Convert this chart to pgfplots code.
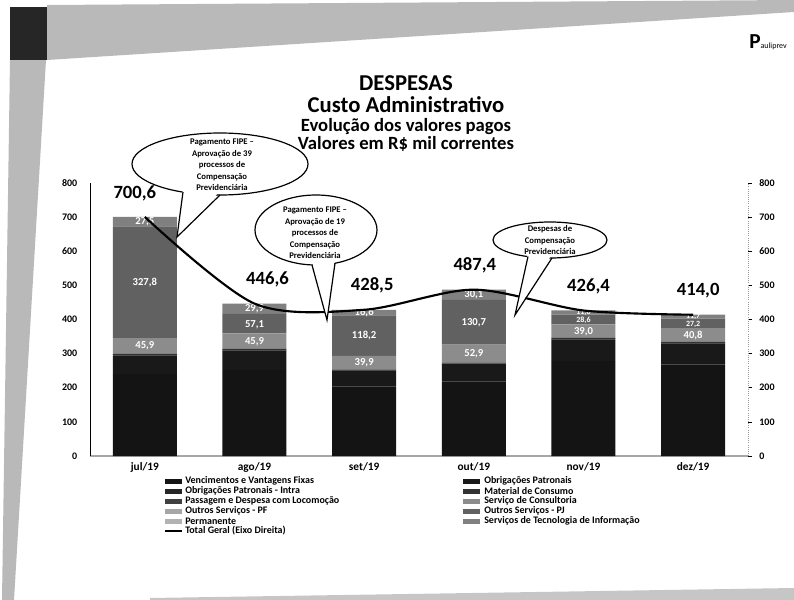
\documentclass[border=0pt]{standalone}
\usepackage{fontspec}
\setmainfont{Carlito}
\usepackage{pgfplots}
\pgfplotsset{compat=1.18}
\usepackage{pgfplotstable}

\pgfplotstableread{
x venc obrig intra mat pass cons opf opj perm ti
0 240.0 55.0 1.5 2.0 0.9 45.9 0 327.8 0 27.5
1 251.5 57.8 1.5 2.2 0.7 45.9 0 57.1 0 29.9
2 203.5 46.5 1.5 1.8 0.5 39.9 0 118.2 0 16.6
3 219.0 50.2 1.5 2.5 0.5 52.9 0 130.7 0 30.1
4 278.0 64.0 1.5 3.0 0.5 39.0 0 28.6 0 11.8
5 268.0 61.5 1.5 2.8 0.5 40.8 0 27.2 0 11.7
}\costs

\pgfplotstableread{
x total
0 700.6
1 446.6
2 428.5
3 487.4
4 426.4
5 414.0
}\totals

\tikzset{
  seglab/.style={font=\bfseries\fontsize{8}{8}\selectfont, text=white, inner sep=0.5pt},
  seglabs/.style={font=\bfseries\fontsize{6}{6}\selectfont, text=white, inner sep=0pt},
  totlab/.style={font=\bfseries\fontsize{14}{14}\selectfont, anchor=center},
  bubtxt/.style={font=\bfseries\fontsize{6.5}{8.6}\selectfont, align=center},
  legtxt/.style={font=\bfseries\fontsize{7.5}{8}\selectfont, anchor=west, inner sep=0pt},
}

\begin{document}
\begin{tikzpicture}[x=0.75pt,y=-0.75pt]
\path[use as bounding box] (0,0) rectangle (794,600);
% scan background
\fill[gray!55] (47,5) -- (794,0) -- (794,12) -- (47,60) -- cycle;
\fill[black!85] (10,7) rectangle (47,60);
\fill[gray!55] (10,60) -- (46,60) -- (14,600) -- (2,600) -- cycle;
\fill[gray!45] (150,598) -- (794,588) -- (794,600) -- (150,600) -- cycle;

% titles
\node[anchor=base, font=\bfseries\fontsize{17}{17}\selectfont] at (406,90) {DESPESAS};
\node[anchor=base, font=\bfseries\fontsize{17}{17}\selectfont] at (406,112) {Custo Administrativo};
\node[anchor=base, font=\bfseries\fontsize{14}{14}\selectfont] at (406,131) {Evolução dos valores pagos};
\node[anchor=base, font=\bfseries\fontsize{14}{14}\selectfont] at (406,149) {Valores em R\$ mil correntes};
% logo
\node[anchor=base, inner sep=0pt] at (768,48) {{\fontsize{16}{16}\selectfont\bfseries P}{\fontsize{6}{6}\selectfont auliprev}};

\begin{axis}[
  at={(67.5pt,-342pt)}, anchor=south west,
  width=493.5pt, height=204.75pt, scale only axis,
  ybar stacked, bar width=48pt,
  xmin=-0.5, xmax=5.5, ymin=0, ymax=800,
  xtick={0,...,5}, xticklabels={jul/19,ago/19,set/19,out/19,nov/19,dez/19},
  ytick={0,100,...,800},
  axis x line*=bottom, axis y line*=left,
  x axis line style={gray!70, line width=0.8pt, -},
  y axis line style={black, line width=0.6pt, -},
  major tick length=0pt,
  tick label style={font=\bfseries\fontsize{7.5}{8}\selectfont},
  xticklabel style={font=\bfseries\fontsize{8.5}{9}\selectfont, yshift=-1pt},
  yticklabel style={xshift=-6pt},
  /pgf/number format/assume math mode=true,
  clip=false,
]
\addplot[fill=black!92, draw=none] table[x=x,y=venc]{\costs};
\addplot[fill=black!90, draw=none] table[x=x,y=obrig]{\costs};
\addplot[fill=black!85, draw=none] table[x=x,y=intra]{\costs};
\addplot[fill=black!80, draw=none] table[x=x,y=mat]{\costs};
\addplot[fill=black!75, draw=none] table[x=x,y=pass]{\costs};
\addplot[fill=black!45, draw=none] table[x=x,y=cons]{\costs};
\addplot[fill=black!35, draw=none] table[x=x,y=opf]{\costs};
\addplot[fill=black!62, draw=none] table[x=x,y=opj]{\costs};
\addplot[fill=black!30, draw=none] table[x=x,y=perm]{\costs};
\addplot[fill=black!50, draw=none] table[x=x,y=ti]{\costs};
\end{axis}

\begin{axis}[
  at={(67.5pt,-342pt)}, anchor=south west,
  width=493.5pt, height=204.75pt, scale only axis,
  xmin=-0.5, xmax=5.5, ymin=0, ymax=800,
  axis y line*=right, axis x line=none,
  ytick={0,100,...,800},
  y axis line style={gray!80, densely dotted, line width=0.6pt, -},
  tick align=outside, major tick length=3pt,
  ytick style={black, line width=0.5pt},
  yticklabel style={font=\bfseries\fontsize{7.5}{8}\selectfont, xshift=2pt},
  /pgf/number format/assume math mode=true,
  clip=false,
]
% segment labels
\node[seglab] at (axis cs:0,322.35) {45,9};
\node[seglab] at (axis cs:0,509.2) {327,8};
\node[seglab] at (axis cs:0,688) {27,5};
\node[seglab] at (axis cs:1,334) {45,9};
\node[seglab] at (axis cs:1,386) {57,1};
\node[seglab] at (axis cs:1,433) {29,9};
\node[seglab] at (axis cs:2,273.75) {39,9};
\node[seglab] at (axis cs:2,352.8) {118,2};
\node[seglab] at (axis cs:2,420.2) {16,6};
\node[seglab] at (axis cs:3,300.15) {52,9};
\node[seglab] at (axis cs:3,391.95) {130,7};
\node[seglab] at (axis cs:3,474) {30,1};
\node[seglab] at (axis cs:4,364) {39,0};
\node[seglabs] at (axis cs:4,398) {28,6};
\node[seglabs] at (axis cs:4,420) {11,8};
\node[seglab] at (axis cs:5,352) {40,8};
\node[seglabs] at (axis cs:5,386) {27,2};
\node[seglabs] at (axis cs:5,408) {11,7};
\addplot[black, line width=1.6pt, smooth, tension=0.5, no marks] table[x=x,y=total]{\totals};
\node[totlab, xshift=-7.5pt, yshift=18pt] at (axis cs:0,700.6) {700,6};
\node[totlab, xshift=9.75pt, yshift=18pt] at (axis cs:1,446.6) {446,6};
\node[totlab, xshift=6pt, yshift=18pt] at (axis cs:2,428.5) {428,5};
\node[totlab, xshift=0.75pt, yshift=18pt] at (axis cs:3,487.4) {487,4};
\node[totlab, xshift=3.75pt, yshift=18pt] at (axis cs:4,426.4) {426,4};
\node[totlab, xshift=3.75pt, yshift=18pt] at (axis cs:5,414.0) {414,0};
\end{axis}

% callout 1
\draw[fill=white, line width=0.9pt] (220,164) ellipse [x radius=66pt, y radius=23.25pt];
\fill[white] (183,188) -- (177,237) -- (220,191) -- cycle;
\draw[line width=0.9pt] (183,192) -- (177,237) -- (220,195);
\node[bubtxt] at (222,165) {Pagamento FIPE –\\Aprovação de 39\\processos de\\Compensação\\Previdenciária};
% callout 2
\draw[fill=white, line width=0.9pt] (316,230) ellipse [x radius=45.75pt, y radius=26.25pt];
\fill[white] (312,261) -- (327,320) -- (335,259) -- cycle;
\draw[line width=0.9pt] (312,265) -- (327,320) -- (335,263.3);
\node[bubtxt] at (315,233) {Pagamento FIPE –\\Aprovação de 19\\processos de\\Compensação\\Previdenciária};
% callout 3
\draw[fill=white, line width=0.9pt] (550,240) ellipse [x radius=42.75pt, y radius=13.5pt];
\fill[white] (528,253) -- (515,315) -- (552,254) -- cycle;
\draw[line width=0.9pt] (528,256.6) -- (515,315) -- (552,258);
\node[bubtxt] at (550,240) {Despesas de\\Compensação\\Previdenciária};

% legend
\fill[black!92] (165,478.5) rectangle (182,483.5);
\node[legtxt] at (185,481) {Vencimentos e Vantagens Fixas};
\fill[black!85] (165,488.5) rectangle (182,493.5);
\node[legtxt] at (185,491) {Obrigações Patronais - Intra};
\fill[black!75] (165,498.5) rectangle (182,503.5);
\node[legtxt] at (185,501) {Passagem e Despesa com Locomoção};
\fill[black!35] (165,508.5) rectangle (182,513.5);
\node[legtxt] at (185,511) {Outros Serviços - PF};
\fill[black!30] (165,518.5) rectangle (182,523.5);
\node[legtxt] at (185,521) {Permanente};
\draw[black, line width=1.4pt] (165,531) -- (182,531);
\node[legtxt] at (185,531) {Total Geral (Eixo Direita)};

\fill[black!90] (463,478.5) rectangle (480,483.5);
\node[legtxt] at (484,481) {Obrigações Patronais};
\fill[black!80] (463,488.5) rectangle (480,493.5);
\node[legtxt] at (484,491) {Material de Consumo};
\fill[black!45] (463,498.5) rectangle (480,503.5);
\node[legtxt] at (484,501) {Serviço de Consultoria};
\fill[black!62] (463,508.5) rectangle (480,513.5);
\node[legtxt] at (484,511) {Outros Serviços - PJ};
\fill[black!50] (463,518.5) rectangle (480,523.5);
\node[legtxt] at (484,521) {Serviços de Tecnologia de Informação};
\end{tikzpicture}
\end{document}
